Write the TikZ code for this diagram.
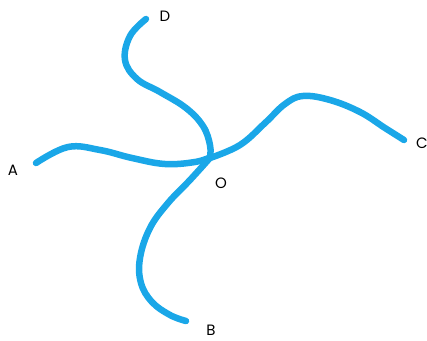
\documentclass[tikz,border=0pt]{standalone}
\usepackage{fontspec}
\setmainfont{Poppins}
\definecolor{curveblue}{RGB}{26,167,232}
\begin{document}
\begin{tikzpicture}[x=1pt,y=-1pt,
  curve/.style={draw=curveblue,line width=6.5pt,line cap=round,line join=round},
  lbl/.style={font=\fontsize{15}{15}\selectfont,text=black,inner sep=0pt}]
\useasboundingbox (0,0) rectangle (427,340);
\coordinate (O) at (210,158);
\coordinate (Aend) at (36,163);
\coordinate (Bend) at (186,321);
\coordinate (Cend) at (404,140);
\coordinate (Dend) at (146,19);
% A curve
\draw[curve] plot[smooth,tension=0.65] coordinates {(36,163) (68,147) (100,150) (132,158) (165,164) (195,162) (211,157)};
% C curve
\draw[curve] plot[smooth,tension=0.65] coordinates {(210,158) (240,145) (265,123) (285,104) (303,96) (330,100) (360,112) (385,128) (404,140)};
% D curve
\draw[curve] plot[smooth,tension=0.65] coordinates {(146,19) (130,36) (125,60) (137,79) (160,92) (186,108) (203,126) (210,145) (210,158)};
% B curve
\draw[curve] plot[smooth,tension=0.65] coordinates {(209,159) (190,180) (168,203) (150,228) (140,258) (141,283) (152,302) (170,315) (186,321)};
\node[lbl] (A) at (13,170) {A};
\node[lbl] (B) at (211,330) {B};
\node[lbl] (C) at (422,143) {C};
\node[lbl] (D) at (165,16) {D};
\node[lbl] (Olbl) at (221,183) {O};
\end{tikzpicture}
\end{document}
